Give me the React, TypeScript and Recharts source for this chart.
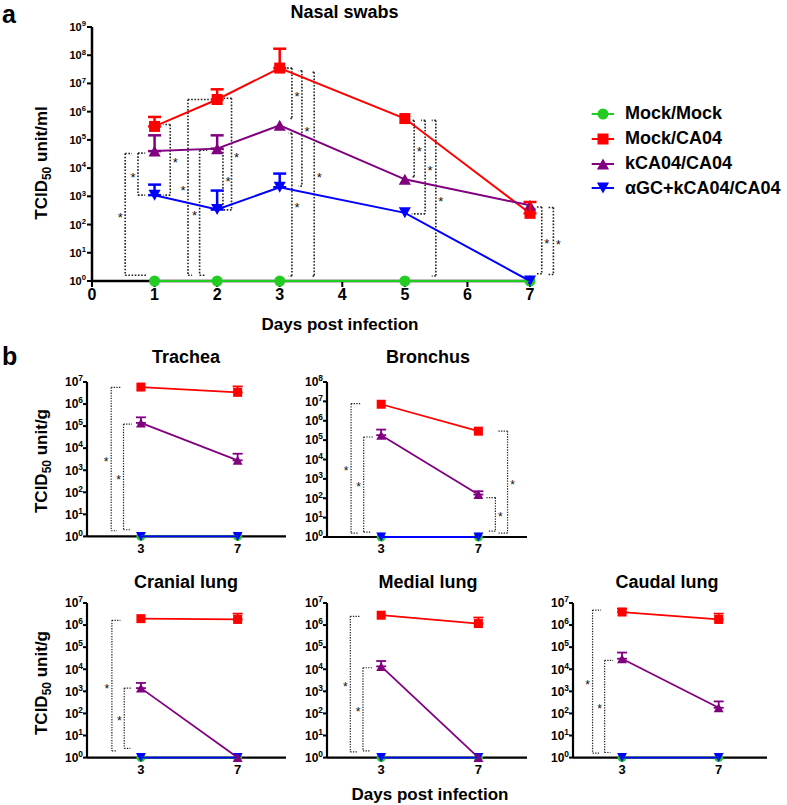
import React from "react"
import { LineChart, Line, XAxis, YAxis, ErrorBar, ReferenceLine } from "recharts"

const FONT = '"Liberation Sans", Arial, Helvetica, sans-serif'

// ---- panel a: nasal swabs ----
const nasalDays = [1, 2, 3, 5, 7]
const nasalMock = [1, 1, 1, 1, 1]
const nasalCA04 = [3.0e5, 2.7e6, 3.5e7, 5.7e5, 2.5e2]
const nasalCA04Upper = [6.5e5, 6.2e6, 1.7e8, null, 6.3e2]
const nasalKCA04 = [4.0e4, 4.9e4, 3.3e5, 4.0e3, 4.8e2]
const nasalKCA04Upper = [1.45e5, 1.45e5, null, null, null]
const nasalAGC = [1.1e3, 3.4e2, 2.1e3, 2.6e2, 1]
const nasalAGCUpper = [2.6e3, 1.6e3, 6.4e3, null, null]
const nasalXTicks = [0, 1, 2, 3, 4, 5, 6, 7]
const nasalYTicks = [1e0, 1e1, 1e2, 1e3, 1e4, 1e5, 1e6, 1e7, 1e8, 1e9]

// significance brackets: [x, top, bottom, top arm end, bottom arm end]
const nasalBrackets = [
  [0.53, 3.3e4, 1.6, 0.64, 0.88],
  [0.735, 3.4e4, 1.1e3, 0.85, 0.85],
  [1.25, 3.5e5, 1.1e3, 1.14, 1.14],
  [1.534, 2.7e6, 1.6, 1.89, 1.6],
  [1.72, 4.3e4, 1.6, 1.84, 1.81],
  [2.093, 4.9e4, 3.7e2, 2.05, 2.05],
  [2.23, 3.0e6, 3.3e2, 2.06, 2.1],
  [3.195, 3.5e7, 5.7e5, 3.115, 3.17],
  [3.355, 2.8e7, 2.3e3, 3.3, 3.3],
  [3.195, 1.7e5, 1.5, 3.14, 3.14],
  [3.551, 2.5e7, 1.5, 3.5, 3.5],
  [5.149, 4.9e5, 4.9e3, 5.11, 5.11],
  [5.324, 4.9e5, 2.4e2, 5.26, 5.11],
  [5.495, 4.9e5, 1.5, 5.43, 5.43],
  [7.188, 4.2e2, 1.8, 7.11, 7.11],
  [7.374, 4.0e2, 1.7, 7.29, 7.29],
]

// ---- panel b: tissues ----
const organDays = [3, 7]
const organMock = [1, 1]
const organAGC = [1, 1]
const organXTicks = [3, 7]
const organYTicks7 = [1e0, 1e1, 1e2, 1e3, 1e4, 1e5, 1e6, 1e7]
const organYTicks8 = [1e0, 1e1, 1e2, 1e3, 1e4, 1e5, 1e6, 1e7, 1e8]

const tracheaCA04 = [5.9e6, 3.4e6]
const tracheaCA04Upper = [null, 6.3e6]
const tracheaKCA04 = [1.4e5, 2.8e3]
const tracheaKCA04Upper = [2.5e5, 5.6e3]
const tracheaBrackets = [[1.77, 5.7e6, 1.8, 2.15, 2.01], [2.28, 1.24e5, 2.0, 2.63, 2.56]]

const bronchusCA04 = [7.1e6, 2.9e5]
const bronchusCA04Upper = [null, null]
const bronchusKCA04 = [1.8e5, 1.55e2]
const bronchusKCA04Upper = [3.5e5, 2.3e2]
const bronchusBrackets = [
  [1.76, 7.6e6, 1.6, 2.14, 2.07],
  [2.28, 1.45e5, 1.8, 2.66, 2.55],
  [8.2, 2.9e5, 1.6, 7.77, 7.83],
  [7.7, 1.08e2, 2.0, 7.33, 7.38],
]

const cranialCA04 = [1.96e6, 1.8e6]
const cranialCA04Upper = [null, 3.3e6]
const cranialKCA04 = [1.4e3, 1]
const cranialKCA04Upper = [2.4e3, null]
const cranialBrackets = [[1.8, 1.65e6, 2.0, 2.15, 2.01], [2.31, 1.4e3, 2.6, 2.63, 2.56]]

const medialCA04 = [2.8e6, 1.17e6]
const medialCA04Upper = [null, 2.2e6]
const medialKCA04 = [1.35e4, 1]
const medialKCA04Upper = [2.36e4, null]
const medialBrackets = [[1.73, 2.5e6, 1.8, 2.11, 2.03], [2.25, 1.17e4, 2.0, 2.62, 2.55]]

const caudalCA04 = [3.9e6, 1.8e6]
const caudalCA04Upper = [5.5e6, 3.3e6]
const caudalKCA04 = [3.0e4, 1.8e2]
const caudalKCA04Upper = [5.7e4, 3.5e2]
const caudalBrackets = [[1.78, 4.8e6, 1.6, 2.13, 2.1], [2.28, 2.5e4, 1.7, 2.63, 2.52]]

// draw order: green, blue, red, purple
const SERIES = [
  { key: "mock", name: "Mock/Mock", color: "#22cc22", shape: "circle" },
  { key: "agc", name: "αGC+kCA04/CA04", color: "#0000ff", shape: "down" },
  { key: "ca04", name: "Mock/CA04", color: "#ff0000", shape: "square" },
  { key: "kca04", name: "kCA04/CA04", color: "#800080", shape: "up" },
]
const LEGEND_ORDER = ["mock", "ca04", "kca04", "agc"]

function makeRows(days: number[], vals: Record<string, number[]>, uppers: Record<string, (number | null)[]>) {
  return days.map((d, i) => {
    const row: any = { day: d }
    for (const k in vals) row[k] = vals[k][i]
    for (const k in uppers) {
      const u = uppers[k][i]
      row[k + "Err"] = u == null ? undefined : [0, u - vals[k][i]]
    }
    return row
  })
}

function Marker({ shape, cx, cy, size, color }: any) {
  if (cx == null || cy == null) return null
  const s = size
  if (shape === "circle") return <circle cx={cx} cy={cy} r={s / 2} fill={color} />
  if (shape === "square") return <rect x={cx - s / 2} y={cy - s / 2} width={s} height={s} fill={color} />
  const w = s * 1.1
  if (shape === "up")
    return <polygon points={`${cx},${cy - s / 2} ${cx + w / 2},${cy + s / 2} ${cx - w / 2},${cy + s / 2}`} fill={color} />
  return <polygon points={`${cx},${cy + s / 2} ${cx + w / 2},${cy - s / 2} ${cx - w / 2},${cy - s / 2}`} fill={color} />
}

function LogTick({ x, y, payload, fs }: any) {
  const exp = Math.round(Math.log10(payload.value))
  return (
    <text x={x} y={y + fs * 0.36} textAnchor="end" fontSize={fs} fontWeight={700} fill="#000" fontFamily={FONT}>
      <tspan>10</tspan>
      <tspan dy={-fs * 0.42} fontSize={fs * 0.7}>{exp}</tspan>
    </text>
  )
}

const starLabel = (side: number, fs: number) => (props: any) => {
  const vb = props.viewBox
  if (!vb) return null
  const x = vb.x ?? vb.x1
  const y = vb.y ?? Math.min(vb.y1, vb.y2)
  const h = vb.height ?? Math.abs(vb.y2 - vb.y1)
  return (
    <text x={x + side * 5} y={y + h / 2 + fs * 0.58} textAnchor="middle" fontSize={fs} fill="#111" fontFamily={FONT}>
      *
    </text>
  )
}

const YW = 60
const MT = 12
const MR = 40
const XH = 30

function Panel({ left, top, w, h, xDomain, xTicks, yTicks, rows, brackets, big }: any) {
  const mk = big ? 11 : 9
  const lw = big ? 2 : 1.8
  const dot = { stroke: "#222", strokeWidth: big ? 1.6 : 1.2, strokeDasharray: big ? "1.6 1.6" : "1.3 1.3" }
  return (
    <div style={{ position: "absolute", left: left - YW, top: top - MT }}>
      <LineChart
        width={YW + w + MR}
        height={MT + h + XH}
        data={rows}
        margin={{ top: MT, right: MR, bottom: 0, left: 0 }}
        style={{ overflow: "visible" }}
      >
        <XAxis
          dataKey="day"
          type="number"
          domain={xDomain}
          ticks={xTicks}
          interval={0}
          height={XH}
          axisLine={{ stroke: "#000", strokeWidth: big ? 2.5 : 2.2 }}
          tickLine={{ stroke: "#000", strokeWidth: 2 }}
          tickSize={big ? 6 : 4}
          tickMargin={big ? 2 : 3}
          tick={{ fill: "#000", fontSize: big ? 16 : 13, fontWeight: 700, fontFamily: FONT }}
        />
        <YAxis
          type="number"
          scale="log"
          domain={[1, yTicks[yTicks.length - 1]]}
          ticks={yTicks}
          interval={0}
          width={YW}
          axisLine={{ stroke: "#000", strokeWidth: big ? 2.5 : 2.2 }}
          tickLine={{ stroke: "#000", strokeWidth: 2 }}
          tickSize={big ? 5 : 4}
          tickMargin={big ? 1 : 0}
          tick={<LogTick fs={big ? 11 : 12} />}
        />
        {brackets.map((b: number[], i: number) => {
          const [x, t, btm, te, be] = b
          const side = te > x ? -1 : 1
          return (
            <React.Fragment key={"br" + i}>
              <ReferenceLine
                segment={[{ x, y: t }, { x, y: btm }]}
                ifOverflow="visible"
                {...dot}
                label={starLabel(side, big ? 13 : 12)}
              />
              <ReferenceLine segment={[{ x, y: t }, { x: te, y: t }]} ifOverflow="visible" {...dot} />
              <ReferenceLine segment={[{ x, y: btm }, { x: be, y: btm }]} ifOverflow="visible" {...dot} />
            </React.Fragment>
          )
        })}
        {SERIES.map((s, si) => (
          <Line
            key={s.key}
            dataKey={s.key}
            name={s.name}
            type="linear"
            stroke={s.color}
            strokeWidth={lw}
            isAnimationActive={false}
            activeDot={false}
            zIndex={700 + si}
            dot={(p: any) => (
              <Marker key={s.key + p.index} shape={s.shape} cx={p.cx} cy={p.cy} size={mk} color={s.color} />
            )}
          >
            {s.key !== "mock" && (
              <ErrorBar
                dataKey={s.key + "Err"}
                direction="y"
                width={big ? 6.5 : 5}
                strokeWidth={big ? 2.5 : 1.8}
                stroke={s.color}
                isAnimationActive={false}
                zIndex={700 + si}
              />
            )}
          </Line>
        ))}
      </LineChart>
    </div>
  )
}

function Txt({ cx, cy, size, children, rotate }: any) {
  return (
    <div
      style={{
        position: "absolute",
        left: cx,
        top: cy,
        transform: `translate(-50%, -50%)${rotate ? " rotate(-90deg)" : ""}`,
        fontSize: size,
        fontWeight: 700,
        lineHeight: 1.1,
        whiteSpace: "nowrap",
        fontFamily: FONT,
        color: "#000",
      }}
    >
      {children}
    </div>
  )
}

function PanelLetter({ top, children }: any) {
  return (
    <div
      style={{
        position: "absolute",
        left: 2,
        top,
        fontSize: 25,
        lineHeight: "normal",
        fontWeight: 700,
        fontFamily: FONT,
        color: "#000",
      }}
    >
      {children}
    </div>
  )
}

function TcidLabel({ unit }: { unit: string }) {
  return (
    <span>
      TCID<sub style={{ fontSize: 12, verticalAlign: "-4px", lineHeight: 0 }}>50</sub> unit/{unit}
    </span>
  )
}

function Legend() {
  return (
    <div style={{ position: "absolute", left: 588, top: 101.6, fontFamily: FONT }}>
      {LEGEND_ORDER.map((k) => {
        const s = SERIES.find((x) => x.key === k)!
        return (
          <div key={k} style={{ height: 24.8, display: "flex", alignItems: "center" }}>
            <svg width={30} height={20} style={{ display: "block" }}>
              <line x1={3.7} x2={26} y1={10} y2={10} stroke={s.color} strokeWidth={2} />
              <Marker shape={s.shape} cx={15} cy={10} size={11} color={s.color} />
            </svg>
            <span style={{ marginLeft: 7, fontSize: 18, fontWeight: 700, color: "#000", whiteSpace: "nowrap" }}>{s.name}</span>
          </div>
        )
      })}
    </div>
  )
}

export default function App() {
  const nasalRows = makeRows(
    nasalDays,
    { mock: nasalMock, agc: nasalAGC, ca04: nasalCA04, kca04: nasalKCA04 },
    { agc: nasalAGCUpper, ca04: nasalCA04Upper, kca04: nasalKCA04Upper }
  )
  const organ = (ca04: number[], ca04Up: (number | null)[], k: number[], kUp: (number | null)[]) =>
    makeRows(organDays, { mock: organMock, agc: organAGC, ca04, kca04: k }, { ca04: ca04Up, kca04: kUp })

  return (
    <div style={{ position: "absolute", left: 0, top: 0, width: 787, height: 805, background: "#fff", fontFamily: FONT }}>
      <PanelLetter top={0}>a</PanelLetter>
      <PanelLetter top={342.4}>b</PanelLetter>

      <Txt cx={344.5} cy={13.3} size={18}>Nasal swabs</Txt>
      <Panel
        left={92}
        top={27}
        w={438}
        h={254}
        xDomain={[0, 7]}
        xTicks={nasalXTicks}
        yTicks={nasalYTicks}
        rows={nasalRows}
        brackets={nasalBrackets}
        big
      />
      <Txt cx={41.7} cy={162.5} size={17} rotate><TcidLabel unit="ml" /></Txt>
      <Txt cx={340} cy={325} size={17}>Days post infection</Txt>
      <Legend />

      <Txt cx={186} cy={358.3} size={18}>Trachea</Txt>
      <Panel left={87} top={382.3} w={199} h={154.4} xDomain={[0.77, 9]} xTicks={organXTicks} yTicks={organYTicks7}
        rows={organ(tracheaCA04, tracheaCA04Upper, tracheaKCA04, tracheaKCA04Upper)} brackets={tracheaBrackets} />

      <Txt cx={428} cy={358.3} size={18}>Bronchus</Txt>
      <Panel left={327} top={381.7} w={200} h={155} xDomain={[0.77, 9]} xTicks={organXTicks} yTicks={organYTicks8}
        rows={organ(bronchusCA04, bronchusCA04Upper, bronchusKCA04, bronchusKCA04Upper)} brackets={bronchusBrackets} />

      <Txt cx={41.7} cy={461} size={17} rotate><TcidLabel unit="g" /></Txt>

      <Txt cx={186} cy={582.7} size={18}>Cranial lung</Txt>
      <Panel left={87} top={602.7} w={199} h={154.6} xDomain={[0.77, 9]} xTicks={organXTicks} yTicks={organYTicks7}
        rows={organ(cranialCA04, cranialCA04Upper, cranialKCA04, cranialKCA04Upper)} brackets={cranialBrackets} />

      <Txt cx={428} cy={582.7} size={18}>Medial lung</Txt>
      <Panel left={327} top={602.7} w={200} h={154.6} xDomain={[0.77, 9]} xTicks={organXTicks} yTicks={organYTicks7}
        rows={organ(medialCA04, medialCA04Upper, medialKCA04, medialKCA04Upper)} brackets={medialBrackets} />

      <Txt cx={667} cy={582.7} size={18}>Caudal lung</Txt>
      <Panel left={573} top={602.7} w={194} h={154.6} xDomain={[0.97, 9]} xTicks={organXTicks} yTicks={organYTicks7}
        rows={organ(caudalCA04, caudalCA04Upper, caudalKCA04, caudalKCA04Upper)} brackets={caudalBrackets} />

      <Txt cx={41.7} cy={682.5} size={17} rotate><TcidLabel unit="g" /></Txt>
      <Txt cx={430} cy={795} size={17}>Days post infection</Txt>
    </div>
  )
}
